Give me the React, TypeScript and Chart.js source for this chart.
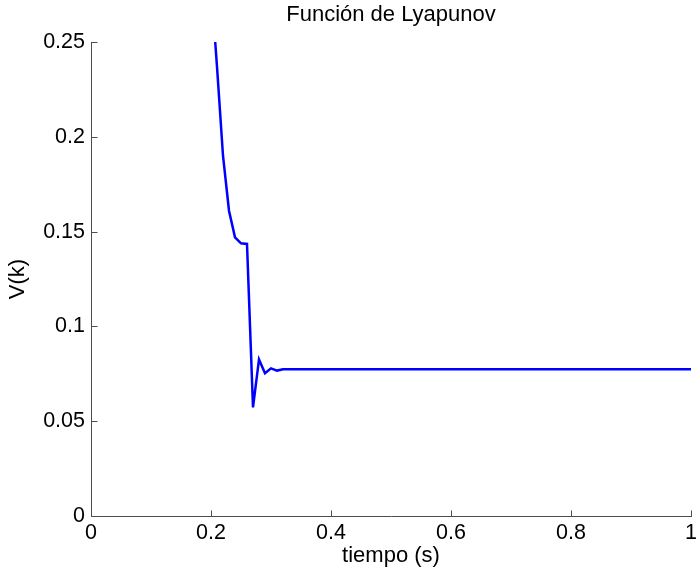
import React, { useEffect, useRef } from "react";
import { Chart, registerables } from "chart.js";

Chart.register(...registerables);

const titleText = "Función de Lyapunov";
const xAxisLabel = "tiempo (s)";
const yAxisLabel = "V(k)";

const timeValues = [0.207, 0.21, 0.22, 0.23, 0.24, 0.25, 0.26, 0.27, 0.28, 0.29, 0.3, 0.31, 0.32, 1.0];
const vValues = [0.25, 0.237, 0.19, 0.161, 0.147, 0.1438, 0.1435, 0.0573, 0.0826, 0.0753, 0.0779, 0.0767, 0.0774, 0.0774];

const xTickValues = [0, 0.2, 0.4, 0.6, 0.8, 1];
const xTickLabels = ["0", "0.2", "0.4", "0.6", "0.8", "1"];
const yTickValues = [0, 0.05, 0.1, 0.15, 0.2, 0.25];
const yTickLabels = ["0", "0.05", "0.1", "0.15", "0.2", "0.25"];

const FONT = "'Liberation Sans', Arial, Helvetica, sans-serif";
const AXIS_COLOR = "#4d4d4d";

const inwardTicks = {
  id: "inwardTicks",
  afterDatasetsDraw(chart: any) {
    const { ctx, chartArea, scales } = chart;
    const len = 6;
    ctx.save();
    ctx.strokeStyle = AXIS_COLOR;
    ctx.lineWidth = 1;
    ctx.beginPath();
    xTickValues.forEach((v) => {
      const px = Math.round(scales.x.getPixelForValue(v)) + 0.5;
      const b = Math.round(chartArea.bottom) + 0.5;
      ctx.moveTo(px, b);
      ctx.lineTo(px, b - len);
    });
    yTickValues.forEach((v) => {
      const py = Math.round(scales.y.getPixelForValue(v)) + 0.5;
      const l = Math.round(chartArea.left) + 0.5;
      ctx.moveTo(l, py);
      ctx.lineTo(l + len, py);
    });
    ctx.stroke();
    ctx.restore();
  },
};

export default function App() {
  const canvasRef = useRef<HTMLCanvasElement | null>(null);

  useEffect(() => {
    if (!canvasRef.current) return;
    const points = timeValues.map((t, i) => ({ x: t, y: vValues[i] }));
    const chart = new Chart(canvasRef.current, {
      type: "scatter",
      data: {
        datasets: [
          {
            data: points,
            showLine: true,
            borderColor: "#0000ff",
            backgroundColor: "#0000ff",
            borderWidth: 2.5,
            pointRadius: 0,
            pointHoverRadius: 0,
            tension: 0,
          },
        ],
      },
      options: {
        animation: false,
        responsive: false,
        maintainAspectRatio: false,
        events: [],
        layout: { padding: { left: 0, right: 5, top: 0, bottom: 0 } },
        plugins: {
          legend: { display: false },
          tooltip: { enabled: false },
          title: {
            display: true,
            fullSize: false,
            text: titleText,
            color: "#000",
            font: { family: FONT, size: 22, weight: "normal" },
            padding: { top: 2.2, bottom: 13.4 },
          },
        },
        scales: {
          x: {
            type: "linear",
            min: 0,
            max: 1,
            afterBuildTicks: (scale: any) => {
              scale.ticks = xTickValues.map((v) => ({ value: v }));
            },
            afterFit: (scale: any) => {
              scale.height = 62;
              scale.paddingLeft = 0;
              scale.paddingRight = 0;
            },
            grid: { display: true, drawOnChartArea: false, drawTicks: false },
            border: { display: true, color: AXIS_COLOR, width: 1 },
            ticks: {
              color: "#000",
              padding: 4.6,
              maxRotation: 0,
              autoSkip: false,
              font: { family: FONT, size: 21.5 },
              callback: (v: any) => {
                const i = xTickValues.findIndex((t) => Math.abs(t - Number(v)) < 1e-9);
                return i >= 0 ? xTickLabels[i] : "";
              },
            },
            title: {
              display: true,
              text: xAxisLabel,
              color: "#000",
              font: { family: FONT, size: 22 },
              padding: { top: 0, bottom: 8.4 },
            },
          },
          y: {
            type: "linear",
            min: 0,
            max: 0.25,
            afterBuildTicks: (scale: any) => {
              scale.ticks = yTickValues.map((v) => ({ value: v }));
            },
            afterFit: (scale: any) => {
              scale.width = 91;
              scale.paddingTop = 0;
              scale.paddingBottom = 0;
            },
            grid: { display: true, drawOnChartArea: false, drawTicks: false },
            border: { display: true, color: AXIS_COLOR, width: 1 },
            ticks: {
              color: "#000",
              padding: 6,
              autoSkip: false,
              font: { family: FONT, size: 21.5 },
              callback: (v: any) => {
                const i = yTickValues.findIndex((t) => Math.abs(t - Number(v)) < 1e-9);
                return i >= 0 ? yTickLabels[i] : "";
              },
            },
            title: {
              display: true,
              text: yAxisLabel,
              color: "#000",
              font: { family: FONT, size: 22 },
              padding: { top: 5.2, bottom: 0 },
            },
          },
        },
      },
      plugins: [inwardTicks],
    } as any);
    return () => chart.destroy();
  }, []);

  return (
    <div style={{ position: "fixed", left: 0, top: 0, width: 696, height: 578, background: "#fff" }}>
      <canvas ref={canvasRef} width={696} height={578} style={{ width: 696, height: 578, display: "block" }} />
    </div>
  );
}
